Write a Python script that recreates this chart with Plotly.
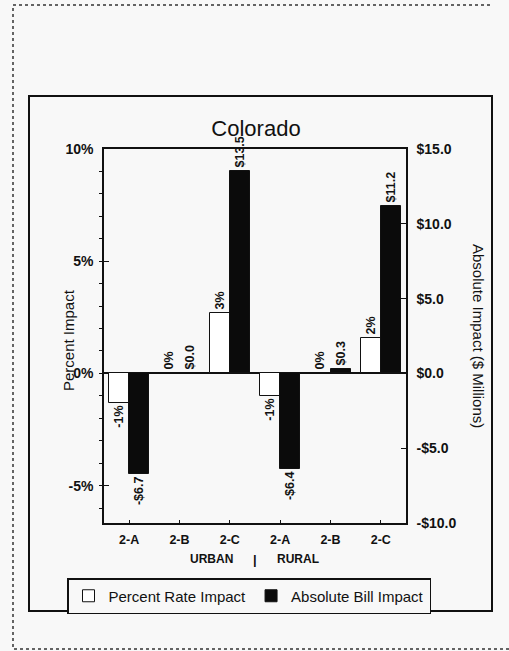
import plotly.graph_objects as go

# Rate-design options by service area
plans = ["2-A", "2-B", "2-C", "2-A", "2-B", "2-C"]
areas = ["URBAN", "URBAN", "URBAN", "RURAL", "RURAL", "RURAL"]
categories = [f"{a} {p}" for a, p in zip(areas, plans)]

# Percent rate impact (%) and absolute bill impact ($ millions)
percent_impact = [-1.3, 0.0, 2.7, -1.0, 0.0, 1.6]
bill_impact = [-6.7, 0.0, 13.5, -6.4, 0.3, 11.2]

# Axis ticks
pct_ticks = [-5, 0, 5, 10]
pct_ticktext = ["-5%", "0%", "5%", "10%"]
usd_ticks = [-10, -5, 0, 5, 10, 15]
usd_ticktext = ["-$10.0", "-$5.0", "$0.0", "$5.0", "$10.0", "$15.0"]

W, H = 509, 651
L, R, T, B = 104, 406, 149, 523
FONT = "Liberation Sans, Arial, sans-serif"
BG = "#f8f8f8"
INK = "#111111"


def px(x):
    return (x - L) / (R - L)


def py(y):
    return (B - y) / (B - T)


def pct_label(v):
    return f"<b>{v:.0f}%</b>"


def usd_label(v):
    s = f"-${abs(v):.1f}" if v < 0 else f"${v:.1f}"
    return f"<b>{s}</b>"


fig = go.Figure()
fig.add_trace(go.Bar(
    x=categories, y=percent_impact, name="Percent Rate Impact",
    offset=-0.4, width=0.4,
    marker=dict(color="white", line=dict(color=INK, width=1)),
    text=[pct_label(v) for v in percent_impact],
    textposition="outside", textangle=-90, constraintext="none",
    cliponaxis=False, textfont=dict(size=12.5, color=INK, family=FONT),
))
fig.add_trace(go.Bar(
    x=categories, y=bill_impact, name="Absolute Bill Impact", yaxis="y2",
    offset=0.0, width=0.4,
    marker=dict(color="#0b0b0b", line=dict(color=INK, width=1)),
    text=[usd_label(v) for v in bill_impact],
    textposition="outside", textangle=-90, constraintext="none",
    cliponaxis=False, textfont=dict(size=12.5, color=INK, family=FONT),
))

annotations = [
    dict(text="Percent Impact", x=px(68), y=py(340), xref="paper", yref="paper",
         xanchor="center", yanchor="middle", textangle=-90, showarrow=False,
         font=dict(size=15, color=INK, family=FONT)),
    dict(text="Absolute Impact ($ Millions)", x=px(479), y=py(336), xref="paper",
         yref="paper", xanchor="center", yanchor="middle", textangle=90,
         showarrow=False, font=dict(size=15, color=INK, family=FONT)),
    dict(text="<b>URBAN</b>", x=2.5, y=py(559), xref="x", yref="paper",
         xanchor="right", yanchor="middle", xshift=-20, showarrow=False,
         font=dict(size=12, color=INK, family=FONT)),
    dict(text="<b>|</b>", x=2.5, y=py(559), xref="x", yref="paper",
         xanchor="center", yanchor="middle", showarrow=False,
         font=dict(size=13, color=INK, family=FONT)),
    dict(text="<b>RURAL</b>", x=2.5, y=py(559), xref="x", yref="paper",
         xanchor="left", yanchor="middle", xshift=20, showarrow=False,
         font=dict(size=12, color=INK, family=FONT)),
]

# page border (dotted): top, left and bottom edges as one open path
border_path = (
    f"M {px(490)},{py(5)} L {px(13)},{py(5)} "
    f"L {px(13)},{py(649)} L {px(509)},{py(649)}"
)

shapes = [
    # inner chart frame
    dict(type="rect", xref="paper", yref="paper", x0=px(29), x1=px(492),
         y0=py(611), y1=py(96), line=dict(color=INK, width=2), layer="below"),
    dict(type="path", xref="paper", yref="paper", path=border_path,
         fillcolor="rgba(0,0,0,0)",
         line=dict(color="#333", width=1.5, dash="dot")),
]

fig.update_layout(
    width=W, height=H,
    margin=dict(l=L, r=W - R, t=T, b=H - B, pad=0),
    paper_bgcolor=BG, plot_bgcolor=BG,
    font=dict(family=FONT, color=INK),
    title=dict(text="Colorado", x=px(256), xref="paper", xanchor="center",
               y=1 - 128 / H, yref="container", yanchor="middle",
               font=dict(size=22, color=INK, family=FONT)),
    barmode="overlay",
    bargap=0,
    showlegend=True,
    legend=dict(orientation="h", x=px(67), xanchor="left",
                y=py(578), yanchor="top",
                bgcolor=BG, bordercolor=INK, borderwidth=1.5,
                font=dict(size=15, color=INK, family=FONT),
                itemwidth=30, tracegroupgap=0),
    xaxis=dict(type="category", categoryorder="array", categoryarray=categories,
               tickvals=categories, ticktext=[f"<b>{p}</b>" for p in plans],
               range=[-0.5, 5.5],
               showline=True, linecolor=INK, linewidth=1.5, mirror=True,
               ticks="inside", ticklen=3, tickcolor=INK, ticklabelstandoff=4,
               tickfont=dict(size=12.5, color=INK), showgrid=False, zeroline=False),
    yaxis=dict(range=[-20 / 3, 10], tickvals=pct_ticks,
               ticktext=[f"<b>{t}</b>" for t in pct_ticktext],
               showline=True, linecolor=INK, linewidth=1.5, ticks="inside",
               ticklen=5, tickcolor=INK, ticklabelstandoff=6,
               tickfont=dict(size=14, color=INK), showgrid=False,
               zeroline=True, zerolinecolor=INK, zerolinewidth=1.5,
               minor=dict(dtick=1, ticks="outside", ticklen=3, tickcolor=INK)),
    yaxis2=dict(range=[-10, 15], tickvals=usd_ticks,
                ticktext=[f"<b>{t}</b>" for t in usd_ticktext],
                overlaying="y", side="right", showline=True, linecolor=INK,
                linewidth=1.5, ticks="inside", ticklen=5, tickcolor=INK,
                ticklabelstandoff=6, tickfont=dict(size=14, color=INK),
                showgrid=False, zeroline=False),
    annotations=annotations,
    shapes=shapes,
)

fig.write_html("out.html")
